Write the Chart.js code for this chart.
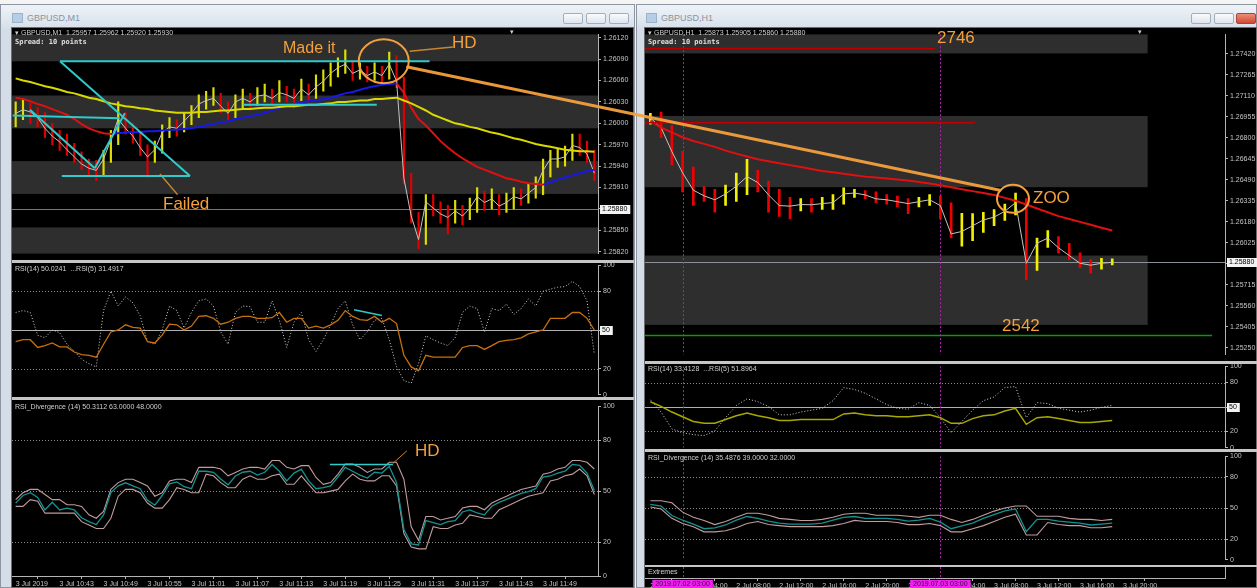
<!DOCTYPE html>
<html>
<head>
<meta charset="utf-8">
<script src="https://cdn.jsdelivr.net/npm/chart.js@4.4.1/dist/chart.umd.min.js"></script>
<style>
body{margin:0;width:1257px;height:588px;overflow:hidden;background:#f4f4f4;position:relative;font-family:"Liberation Sans",Arial,sans-serif}
.win{position:absolute;top:4px;height:584px;background:linear-gradient(#eef3f8,#d7e0ea 23px,#d3dce7 24px);border:1px solid #8d96a0;box-sizing:border-box}
.ttl{position:absolute;top:13px;font-size:9px;color:#8993a0}
.ico{position:absolute;top:13px;width:9px;height:8px;background:#b7cde3;border:1px solid #9ab3cc}
.btn{position:absolute;top:13px;width:20px;height:11px;border:1px solid #a3aebb;border-radius:2px;background:linear-gradient(#fafbfc,#dde4ec);box-sizing:border-box}
.pane{position:absolute;background:#000;border:1px solid #6c6c6c;box-sizing:border-box}
canvas{position:absolute;z-index:2}
.sep{position:absolute;background:#c6c6c6;z-index:3}
.lbl{position:absolute;font-size:7px;color:#cfcfcf;white-space:pre;line-height:8px;z-index:4}
.mono{font-family:"DejaVu Sans Mono",monospace;font-weight:bold;font-size:7px;color:#e0e0e0}
.note{position:absolute;color:#f4a03c;font-family:"Liberation Sans",Arial,sans-serif;white-space:nowrap;line-height:1;z-index:7}
</style>
</head>
<body>
<div class="win" style="left:0;width:635px"></div>
<div class="ico" style="left:12px"></div>
<div class="ttl" style="left:27px">GBPUSD,M1</div>
<div class="btn" style="left:563px"></div><div class="btn" style="left:586px"></div><div class="btn" style="left:609px"></div>
<div class="pane" style="left:11px;top:27px;width:623px;height:561px"></div>

<div class="win" style="left:636px;width:621px"></div>
<div class="ico" style="left:646px"></div>
<div class="ttl" style="left:661px">GBPUSD,H1</div>
<div class="btn" style="left:1191px"></div><div class="btn" style="left:1214px"></div><div class="btn" style="left:1236px;background:linear-gradient(#ee8d78,#cf4a33);border-color:#a9443a"></div>
<div class="pane" style="left:644px;top:27px;width:613px;height:561px"></div>

<canvas id="lMain" width="622" height="232" style="left:12px;top:28px"></canvas>
<canvas id="lRsi" width="622" height="142" style="left:12px;top:259px"></canvas>
<canvas id="lDiv" width="622" height="188" style="left:12px;top:400px"></canvas>
<canvas id="rMain" width="612" height="333" style="left:645px;top:28px"></canvas>
<canvas id="rRsi" width="612" height="94" style="left:645px;top:360px"></canvas>
<canvas id="rDiv" width="612" height="116" style="left:645px;top:450px"></canvas>
<canvas id="rExt" width="612" height="21" style="left:645px;top:567px"></canvas>
<canvas id="ov" width="1257" height="588" style="left:0;top:0;z-index:6"></canvas>

<div class="sep" style="left:12px;top:260px;width:622px;height:3px"></div>
<div class="sep" style="left:12px;top:397px;width:622px;height:3px"></div>
<div class="sep" style="left:645px;top:361px;width:612px;height:3px"></div>
<div class="sep" style="left:645px;top:449px;width:612px;height:3px"></div>
<div class="sep" style="left:645px;top:565px;width:612px;height:2px"></div>

<div class="lbl" style="left:15px;top:29px">▾ GBPUSD,M1  1.25957 1.25962 1.25920 1.25930</div>
<div class="lbl mono" style="left:15px;top:38px">Spread: 10 points</div>
<div class="lbl" style="left:510px;top:28px">▾</div>
<div class="lbl" style="left:15px;top:265px">RSI(14) 50.0241  ...RSI(5) 31.4917</div>
<div class="lbl" style="left:15px;top:403px">RSI_Divergence (14) 50.3112 63.0000 48.0000</div>
<div class="lbl" style="left:648px;top:29px">▾ GBPUSD,H1  1.25873 1.25905 1.25860 1.25880</div>
<div class="lbl mono" style="left:648px;top:38px">Spread: 10 points</div>
<div class="lbl" style="left:1138px;top:28px">▾</div>
<div class="lbl" style="left:648px;top:365px">RSI(14) 33.4128  ...RSI(5) 51.8964</div>
<div class="lbl" style="left:648px;top:454px">RSI_Divergence (14) 35.4876 39.0000 32.0000</div>
<div class="lbl" style="left:648px;top:568px">Extremes</div>

<div class="note" style="left:283px;top:40px;font-size:16px">Made it</div>
<div class="note" style="left:452px;top:34px;font-size:17px">HD</div>
<div class="note" style="left:163px;top:195px;font-size:17px">Failed</div>
<div class="note" style="left:415px;top:442px;font-size:17px">HD</div>
<div class="note" style="left:937px;top:29px;font-size:17px">2746</div>
<div class="note" style="left:1033px;top:189px;font-size:17px">ZOO</div>
<div class="note" style="left:1002px;top:317px;font-size:17px">2542</div>

<script>
// ---- left window: GBPUSD M1 ----
const leftClose = [1.26014,1.26019,1.26016,1.26008,1.25993,1.25982,1.25974,1.25963,1.25953,1.25943,
  1.25937,1.25934,1.25950,1.25977,1.26006,1.25993,1.25982,1.25966,1.25953,1.25963,
  1.25987,1.25995,1.25993,1.26003,1.26014,1.26027,1.26032,1.26035,1.26024,1.26014,
  1.26030,1.26035,1.26030,1.26038,1.26040,1.26035,1.26043,1.26040,1.26035,1.26048,
  1.26040,1.26051,1.26059,1.26070,1.26078,1.26083,1.26070,1.26075,1.26067,1.26072,
  1.26067,1.26083,1.26059,1.25923,1.25870,1.25837,1.25890,1.25881,1.25873,1.25868,
  1.25877,1.25870,1.25881,1.25897,1.25889,1.25894,1.25884,1.25889,1.25897,1.25894,
  1.25902,1.25910,1.25934,1.25950,1.25950,1.25953,1.25969,1.25966,1.25957,1.25930];
const leftHigh = [1.26030,1.26035,1.26028,1.26022,1.26015,1.26000,1.25990,1.25985,1.25972,1.25960,
  1.25950,1.25948,1.25962,1.25990,1.26030,1.26015,1.26000,1.25988,1.25970,1.25975,
  1.25998,1.26008,1.26005,1.26015,1.26025,1.26040,1.26045,1.26050,1.26042,1.26030,
  1.26040,1.26048,1.26042,1.26050,1.26055,1.26048,1.26060,1.26052,1.26048,1.26062,
  1.26055,1.26068,1.26075,1.26085,1.26092,1.26103,1.26088,1.26085,1.26080,1.26085,
  1.26080,1.26100,1.26095,1.26065,1.25930,1.25875,1.25900,1.25900,1.25890,1.25885,
  1.25892,1.25885,1.25895,1.25910,1.25905,1.25908,1.25900,1.25902,1.25910,1.25908,
  1.25915,1.25925,1.25950,1.25962,1.25965,1.25968,1.25985,1.25985,1.25975,1.25962];
const leftLow = [1.25995,1.26005,1.26000,1.25995,1.25980,1.25970,1.25962,1.25955,1.25945,1.25935,
  1.25928,1.25920,1.25928,1.25945,1.25970,1.25985,1.25972,1.25955,1.25924,1.25945,
  1.25958,1.25980,1.25982,1.25988,1.25998,1.26008,1.26020,1.26025,1.26015,1.26005,
  1.26008,1.26022,1.26020,1.26025,1.26030,1.26025,1.26030,1.26030,1.26022,1.26030,
  1.26030,1.26035,1.26045,1.26052,1.26065,1.26070,1.26060,1.26062,1.26058,1.26060,
  1.26055,1.26062,1.26050,1.25915,1.25860,1.25824,1.25830,1.25870,1.25860,1.25845,
  1.25860,1.25858,1.25865,1.25875,1.25878,1.25880,1.25872,1.25875,1.25880,1.25885,
  1.25888,1.25895,1.25900,1.25925,1.25938,1.25940,1.25948,1.25955,1.25945,1.25920];
const leftFastMa = [1.26036,1.26034,1.26031,1.26027,1.26024,1.26020,1.26016,1.26012,1.26006,1.25999,
  1.25993,1.25989,1.25986,1.25985,1.25986,1.25987,1.25988,1.25988,1.25989,1.25989,
  1.25990,1.25991,1.25991,1.25992,1.25993,1.25995,1.25997,1.25999,1.26001,1.26003,
  1.26006,1.26008,1.26010,1.26012,1.26015,1.26018,1.26022,1.26024,1.26027,1.26030,
  1.26031,1.26032,1.26034,1.26036,1.26039,1.26042,1.26044,1.26047,1.26050,1.26052,
  1.26054,1.26055,1.26056,1.26043,1.26022,1.26006,1.25997,1.25986,1.25975,1.25966,
  1.25958,1.25951,1.25945,1.25939,1.25935,1.25931,1.25927,1.25923,1.25921,1.25918,
  1.25916,1.25915,1.25914,1.25917,1.25921,1.25924,1.25927,1.25930,1.25933,1.25935];
const leftSlowMa = [1.26063,1.26060,1.26058,1.26055,1.26052,1.26050,1.26047,1.26044,1.26042,1.26039,
  1.26036,1.26034,1.26031,1.26028,1.26026,1.26024,1.26023,1.26021,1.26020,1.26018,
  1.26017,1.26016,1.26015,1.26015,1.26015,1.26016,1.26016,1.26017,1.26018,1.26018,
  1.26019,1.26020,1.26020,1.26021,1.26022,1.26022,1.26023,1.26024,1.26024,1.26025,
  1.26026,1.26026,1.26027,1.26028,1.26030,1.26030,1.26031,1.26032,1.26032,1.26034,
  1.26034,1.26035,1.26036,1.26032,1.26028,1.26023,1.26018,1.26012,1.26008,1.26004,
  1.26000,1.25998,1.25995,1.25993,1.25990,1.25987,1.25985,1.25982,1.25979,1.25977,
  1.25974,1.25971,1.25969,1.25967,1.25965,1.25963,1.25962,1.25961,1.25961,1.25960];
const leftRsi14 = [41,42.5,42.5,36.5,38,40,37,37,33,31,30.5,29,39,48.5,50,54,52,51.5,41,40,
  46,54.5,54,50,53,60.5,61,59,54.5,56,59,60.5,60.5,59,59,59.5,63.5,56,59,59,
  51.5,53,51.5,54,57.5,65,60.5,58,57.5,60.5,56,59,55,30.5,21.5,18.5,30.5,29,29,29,
  29,36.5,38,38,35,38,41,42,42.5,44,47,48.5,50,59,59,59,63.5,63.5,59,50];
const leftRsi5 = [63.5,65,63.5,46,44,50,48,39,33.5,27.5,24,21.5,65,80,68.5,75.5,71,61,41,39,
  50,68.5,65,51.5,63.5,72.5,74,68.5,48.5,39,63.5,68.5,68,56,56,72.5,57.5,36.5,56,63.5,
  42.5,33.5,42.5,54,66.5,72.5,54,42.5,48.5,57.5,59,42.5,21.5,11,9,24,45.5,42.5,40,38,
  44,63.5,68.5,66.5,48.5,66.5,65,70,62,66.5,74,68.5,80,81.5,83,83.5,87.5,83.5,72.5,31.5];
const leftDiv = [42.9,47.4,49.1,46.3,38.9,43.4,38.9,40,38.9,34.3,32,30.3,36,49.1,53.1,54.9,53.1,51.4,44.6,41.7,
  47.4,54.3,55.4,52.6,51.4,61.7,61.7,61.1,57.1,53.7,58.9,61.1,61.7,59.4,61.1,65.7,61.7,56,60.6,62.9,
  56,51.4,52,53.1,58.3,64,61.7,59.4,57.7,61.1,60.6,64.6,54.9,27.4,18.9,18.3,32.6,31.4,30.3,32,
  32.6,37.7,38.9,37.1,36,41.1,43.4,45.1,46.9,48.6,49.7,51.4,58.3,58.9,60.6,61.7,65.7,65.1,60.6,50.3];
const leftDivUp = [45,49,51,51,48,45,45,42,42,41,36,34,38,51,55,57,57,55,53,47,
  49,56,57,57,55,64,64,64,63,59,61,63,64,64,63,68,68,64,63,65,
  65,58,54,55,60,66,66,64,61,63,63,67,67,57,29,21,35,35,33,34,
  35,40,41,41,39,43,45,47,49,51,52,53,60,61,63,64,68,68,67,63];
const leftDivDn = [41,41,45,44,37,37,37,37,37,32,30,28,28,34,47,51,51,49,43,40,
  40,45,52,51,49,49,60,59,55,52,52,57,59,57,57,59,60,54,54,59,
  54,49,49,50,51,56,60,57,56,56,59,59,53,25,17,16,16,29,28,28,
  30,31,36,35,34,34,39,41,43,45,47,48,49,56,57,59,60,63,59,48];
const leftPriceTicks = [1.2612,1.2609,1.2606,1.2603,1.2600,1.2597,1.2594,1.2591,1.2588,1.2585,1.2582];
const leftTimeIdx = [0,6,12,18,24,30,36,42,48,54,60,66,72];
const leftTimes = ['3 Jul 2019','3 Jul 10:43','3 Jul 10:49','3 Jul 10:55','3 Jul 11:01','3 Jul 11:07',
  '3 Jul 11:13','3 Jul 11:19','3 Jul 11:25','3 Jul 11:31','3 Jul 11:37','3 Jul 11:43','3 Jul 11:49'];
const leftZones = [[1.26125,1.26087],[1.26039,1.25993],[1.25947,1.25901],[1.25854,1.25817]];
const leftBid = 1.2588;
// trendlines: [index0, price0, index1, price1]
const leftTrend = [[6.05,1.26087,56.5,1.26087],[6.05,1.26087,23.8,1.25926],[6.3,1.25926,23.8,1.25926],
  [-0.4,1.26011,14.2,1.26007],[1.96,1.26019,10.8,1.25937],[10.8,1.25937,14.9,1.26014],[31,1.26026,49.3,1.26026]];
const leftPointers = [[53.8,1.26101,59.7,1.26107],[19.7,1.25929,22.1,1.25900]];
const leftRsiTrend = [46.2,65.7,50,61.2];
const leftDivTrend = [42.9,65.7,51.5,65.7];
const leftDivPointer = [51.5,66.3,53.4,73.7];

// ---- right window: GBPUSD H1 ----
const rightClose = [1.26947,1.26875,1.26698,1.26541,1.26413,1.26371,1.26342,1.26385,1.26442,1.26513,
  1.26470,1.26378,1.26299,1.26295,1.26307,1.26305,1.26314,1.26321,1.26385,1.26392,
  1.26378,1.26349,1.26342,1.26328,1.26314,1.26328,1.26342,1.26299,1.26090,1.26108,
  1.26150,1.26193,1.26214,1.26257,1.26321,1.25873,1.26022,1.26058,1.25987,1.25930,
  1.25873,1.25859,1.25873,1.25880];
const rightHigh = [1.26980,1.26990,1.26890,1.26700,1.26584,1.26440,1.26420,1.26450,1.26540,1.26640,
  1.26560,1.26480,1.26420,1.26360,1.26350,1.26350,1.26360,1.26380,1.26430,1.26420,
  1.26410,1.26400,1.26380,1.26370,1.26350,1.26360,1.26380,1.26370,1.26320,1.26242,
  1.26240,1.26250,1.26270,1.26310,1.26392,1.26350,1.26060,1.26115,1.26070,1.26020,
  1.25950,1.25900,1.25910,1.25905];
const rightLow = [1.26900,1.26800,1.26600,1.26400,1.26300,1.26330,1.26250,1.26300,1.26330,1.26380,
  1.26400,1.26250,1.26220,1.26200,1.26260,1.26250,1.26270,1.26270,1.26310,1.26360,
  1.26350,1.26320,1.26310,1.26290,1.26240,1.26290,1.26300,1.26200,1.26060,1.26000,
  1.26040,1.26100,1.26150,1.26190,1.26230,1.25752,1.25820,1.25990,1.25950,1.25900,
  1.25840,1.25800,1.25830,1.25860];
const rightMa = [1.26925,1.26875,1.26840,1.26804,1.26776,1.26755,1.26733,1.26705,1.26683,1.26662,
  1.26641,1.26627,1.26612,1.26598,1.26584,1.26570,1.26555,1.26545,1.26534,1.26523,
  1.26513,1.26506,1.26499,1.26491,1.26484,1.26474,1.26463,1.26449,1.26435,1.26420,
  1.26406,1.26392,1.26378,1.26356,1.26335,1.26307,1.26278,1.26250,1.26221,1.26200,
  1.26179,1.26157,1.26136,1.26115];
const rightRsi14 = [56.5,50.7,43.8,38,32.3,30,30,34.6,39.2,42.7,39.2,36.9,33.4,33.4,34.6,34.6,34.6,34.6,41.5,42.7,
  40.4,39.2,39.2,38,38,39.2,40.4,36.9,30,30,35.8,39.2,40.4,45,48.4,28.8,36.9,38,35.8,33.4,
  31.1,31.1,32.3,33.4];
const rightRsi5 = [58.8,43.8,23.1,18.5,16.1,15,20.8,36.9,51.9,60,56.5,50.7,40.4,40.4,43.8,46.1,48.4,57.7,73.8,71.5,
  66.9,60,53,48.4,47.3,55.4,51.9,36.9,18.5,32.3,46.1,57.7,62.3,73.8,75,36.9,55.4,54.2,48.4,46.1,
  43.8,46.1,49.6,51.9];
const rightDiv = [53.6,51.8,42.7,38.2,34.5,30,30.9,33.6,38.2,41.8,40,37.3,35.5,34.5,34.5,34.5,35.5,38.2,40.9,41.8,
  40,40,40,39.1,37.3,38.2,40,36.4,30,32.7,35.5,40,43.6,47.3,49.1,27.3,39.1,39.1,37.3,36.4,
  35.5,33.6,34.5,35.5];
const rightDivUp = [57,57,55,46,41,38,34,37,41,45,45,43,40,39,38,38,39,41,44,45,
  45,43,43,43,42,41,43,43,39,36,39,43,47,50,52,52,42,42,42,40,39,39,38,39];
const rightDivDn = [51,49,40,35,32,27,27,28,31,35,37,34,33,32,32,32,32,33,35,38,
  37,37,37,36,34,34,35,33,27,27,30,33,37,41,44,24,24,36,34,33,33,31,31,32];
const rightSlots = 54;
const rightPriceTicks = [1.2742,1.27265,1.2711,1.26955,1.268,1.26645,1.2649,1.26335,1.2618,1.26025,
  1.2587,1.25715,1.2556,1.25405,1.2525];
const rightTimeIdx = [0,4,8,12,16,20,24,28,32,36,40,44];
const rightTimes = ['2 Jul 2019','2 Jul 04:00','2 Jul 08:00','2 Jul 12:00','2 Jul 16:00','2 Jul 20:00',
  '3 Jul 00:00','3 Jul 04:00','3 Jul 08:00','3 Jul 12:00','3 Jul 16:00','3 Jul 20:00'];
const rightZones = [[1.27565,1.27423],[1.26961,1.26435],[1.25930,1.25418]];
const rightZoneEnd = 46.3;
const rightBid = 1.2588;
const rightLevels = [1.2746, 1.26911, 1.2534];
const rightLevelEnds = [26.5, 30.2, 52.3];
const rightMarks = [3, 27];
const rightMarkTimes = ['2019.07.02 03:00', '2019.07.03 03:00'];

const rsiTicks = [100, 80, 50, 20, 0];
const rsiLevels = [80, 50, 20];

// annotation anchors [index, price]
const hdMark = [50.25, 1.26087];
const zooMark = [33.76, 1.26349];
const linkFrom = [53.5, 1.26079];
const linkTo = [32.55, 1.26413];

const FONT = '"Liberation Sans", Arial, sans-serif';
const AXIS = '#b4b4b4';

const zonesPlugin = {
  id: 'zones',
  beforeDatasetsDraw(chart, args, o) {
    const {ctx, chartArea: a, scales: {x, y}} = chart;
    ctx.save();
    ctx.beginPath(); ctx.rect(a.left, a.top, a.width, a.height); ctx.clip();
    if (o.bands) {
      const x1 = o.bandEnd != null ? x.getPixelForValue(o.bandEnd) : a.right;
      ctx.fillStyle = '#2e2e2e';
      o.bands.forEach(b => {
        const y0 = y.getPixelForValue(b[0]), y1 = y.getPixelForValue(b[1]);
        ctx.fillRect(a.left, y0, x1 - a.left, y1 - y0);
      });
    }
    (o.levels || []).forEach((v, i) => {
      const py = Math.round(y.getPixelForValue(v)) + 0.5;
      ctx.strokeStyle = o.levelColors[i];
      ctx.lineWidth = 1;
      ctx.setLineDash(o.levelDash[i]);
      ctx.beginPath(); ctx.moveTo(a.left, py); ctx.lineTo(a.right, py); ctx.stroke();
    });
    (o.marks || []).forEach(m => {
      const px = Math.round(x.getPixelForValue(m)) + 0.5;
      ctx.strokeStyle = '#b020b0';
      ctx.lineWidth = 1;
      ctx.setLineDash([2, 2]);
      ctx.beginPath(); ctx.moveTo(px, a.top); ctx.lineTo(px, a.bottom); ctx.stroke();
    });
    ctx.restore();
  },
  afterDraw(chart, args, o) {
    const {ctx, chartArea: a, scales: {x, y}} = chart;
    ctx.save();
    ctx.font = '7px ' + FONT;
    ctx.textBaseline = 'middle';
    ctx.textAlign = 'left';
    (o.boxes || []).forEach(b => {
      const py = Math.round(y.getPixelForValue(b[0]));
      const w = ctx.measureText(b[1]).width + 5;
      ctx.fillStyle = '#f2f2f2';
      ctx.fillRect(a.right + 2, py - 4, w, 9);
      ctx.fillStyle = '#000';
      ctx.fillText(b[1], a.right + 4, py + 0.5);
    });
    (o.markLabels || []).forEach((t, i) => {
      const px = x.getPixelForValue(o.marks[i]);
      const w = ctx.measureText(t).width + 6;
      ctx.fillStyle = '#f020f0';
      ctx.fillRect(px - w / 2, a.bottom + 2, w, 9);
      ctx.fillStyle = '#3a003a';
      ctx.fillText(t, px - w / 2 + 3, a.bottom + 6.5);
    });
    ctx.restore();
  }
};

const pts = arr => arr.map((v, i) => ({x: i, y: v}));
const line = (arr, color, width, order, extra) => Object.assign({
  type: 'line', data: pts(arr), borderColor: color, borderWidth: width,
  pointRadius: 0, tension: 0, order: order
}, extra || {});
const seg = (s, color, width) => ({
  type: 'line', data: [{x: s[0], y: s[1]}, {x: s[2], y: s[3]}],
  borderColor: color, borderWidth: width, pointRadius: 0, order: 1
});
const bars = (high, low, close, up, down, w) => ({
  type: 'bar',
  data: high.map((h, i) => ({x: i, y: [low[i], h]})),
  backgroundColor: close.map((c, i) => c >= close[Math.max(i - 1, 0)] ? up : down),
  barThickness: w, order: 6
});

function yAxis(min, max, ticks, fmt, w) {
  return {
    position: 'right', min: min, max: max,
    afterFit: s => { s.width = w; },
    afterBuildTicks: s => { s.ticks = ticks.map(v => ({value: v})); },
    ticks: {color: '#c4c4c4', font: {size: 7, family: FONT}, padding: 2, callback: fmt},
    grid: {drawOnChartArea: false, tickLength: 3, color: AXIS},
    border: {color: AXIS}
  };
}
function xAxis(n, idx, texts, h) {
  if (!idx) return {type: 'linear', min: -0.5, max: n - 0.5, offset: false, display: false};
  return {
    type: 'linear', min: -0.5, max: n - 0.5, offset: false, position: 'bottom',
    afterFit: s => { s.height = h; },
    afterBuildTicks: s => { s.ticks = idx.map(v => ({value: v})); },
    ticks: {align: 'start', maxRotation: 0, minRotation: 0, autoSkip: false, color: '#c4c4c4',
      font: {size: 7, family: FONT}, padding: 1, callback: v => texts[idx.indexOf(v)]},
    grid: {drawOnChartArea: false, tickLength: 3, color: AXIS},
    border: {color: AXIS}
  };
}
function makeChart(id, datasets, x, y, zones, padding) {
  return new Chart(document.getElementById(id), {
    type: 'bar',
    data: {datasets: datasets},
    options: {
      responsive: false, animation: false, events: [],
      layout: {padding: padding || 0},
      plugins: {legend: {display: false}, tooltip: {enabled: false}, zones: zones},
      scales: {x: x, y: y}
    },
    plugins: [zonesPlugin]
  });
}

const priceFmt = v => v.toFixed(5);
const intFmt = v => String(v);
const dotted = [1, 2];
const rsiZones = (extra) => Object.assign({levels: rsiLevels, levelColors: ['#8c8c8c', '#b0b0b0', '#8c8c8c'],
  levelDash: [dotted, [], dotted], boxes: [[50, '50']]}, extra || {});
const divZones = (extra) => Object.assign({levels: rsiLevels, levelColors: ['#8c8c8c', '#8c8c8c', '#8c8c8c'],
  levelDash: [dotted, dotted, dotted]}, extra || {});

const LN = leftClose.length;
const CYAN = '#2fcaca';

const lMain = makeChart('lMain', [
  ...leftTrend.map(s => seg(s, CYAN, 2)),
  ...leftPointers.map(s => seg(s, '#c8862e', 1.5)),
  line(leftSlowMa, '#d9d900', 2, 3),
  line(leftFastMa, '#e01010', 2, 3, {segment: {borderColor: c => c.p1.parsed.y >= c.p0.parsed.y ? '#1818e8' : '#e01010'}}),
  line(leftClose, '#c4c4c4', 1, 4),
  bars(leftHigh, leftLow, leftClose, '#dede00', '#e00000', 1.5)
], xAxis(LN), yAxis(1.25817, 1.26125, leftPriceTicks, priceFmt, 36),
  {bands: leftZones, levels: [leftBid], levelColors: ['#6d7a86'], levelDash: [[]], boxes: [[leftBid, leftBid.toFixed(5)]]});

const lRsi = makeChart('lRsi', [
  seg(leftRsiTrend, CYAN, 1.5),
  line(leftRsi14, '#c8700c', 1.3, 3),
  line(leftRsi5, '#d4d4d4', 1, 4, {borderDash: dotted})
], xAxis(LN), yAxis(0, 100, rsiTicks, intFmt, 36), rsiZones(), {top: 4, bottom: 4});

const lDiv = makeChart('lDiv', [
  seg(leftDivTrend, CYAN, 1.5),
  seg(leftDivPointer, '#c8862e', 1),
  line(leftDiv, '#149292', 1.3, 3),
  line(leftDivUp, '#c09c9c', 1.1, 4),
  line(leftDivDn, '#c09c9c', 1.1, 4)
], xAxis(LN, leftTimeIdx, leftTimes, 12), yAxis(0, 100, rsiTicks, intFmt, 36), divZones(), {top: 3});

const rMain = makeChart('rMain', [
  ...rightLevels.map((v, i) => seg([-0.5, v, rightLevelEnds[i], v], i === 2 ? '#00a000' : '#c00000', 1.5)),
  line(rightMa, '#e01010', 2, 3),
  line(rightClose, '#c4c4c4', 1, 4),
  bars(rightHigh, rightLow, rightClose, '#f0f000', '#f00000', 2)
], xAxis(rightSlots), yAxis(1.25197, 1.27565, rightPriceTicks, priceFmt, 32),
  {bands: rightZones, bandEnd: rightZoneEnd, levels: [rightBid], levelColors: ['#8a9096'], levelDash: [[]],
   marks: rightMarks, boxes: [[rightBid, rightBid.toFixed(5)]]});

const rRsi = makeChart('rRsi', [
  line(rightRsi14, '#a8a800', 1.5, 3),
  line(rightRsi5, '#d4d4d4', 1, 4, {borderDash: dotted})
], xAxis(rightSlots), yAxis(0, 100, rsiTicks, intFmt, 32), rsiZones({marks: rightMarks}), {top: 4, bottom: 4});

const rDiv = makeChart('rDiv', [
  line(rightDiv, '#149292', 1.3, 3),
  line(rightDivUp, '#c09c9c', 1.1, 4),
  line(rightDivDn, '#c09c9c', 1.1, 4)
], xAxis(rightSlots), yAxis(0, 100, rsiTicks, intFmt, 32), divZones({marks: rightMarks}), {top: 4, bottom: 2});

const rExt = makeChart('rExt', [], xAxis(rightSlots, rightTimeIdx, rightTimes, 10),
  Object.assign(yAxis(0, 1, [], intFmt, 32), {ticks: {display: false}}),
  {marks: rightMarks, markLabels: rightMarkTimes});

// hand-drawn annotations on top of both windows
function toPage(chart, p) {
  const c = chart.canvas;
  return [c.offsetLeft + chart.scales.x.getPixelForValue(p[0]), c.offsetTop + chart.scales.y.getPixelForValue(p[1])];
}
const ov = document.getElementById('ov').getContext('2d');
const a = toPage(lMain, linkFrom), b = toPage(rMain, linkTo);
ov.strokeStyle = 'rgba(244,160,60,0.95)';
ov.lineWidth = 3;
ov.lineCap = 'round';
ov.beginPath(); ov.moveTo(a[0], a[1]); ov.lineTo(b[0], b[1]); ov.stroke();
ov.lineWidth = 2;
ov.strokeStyle = '#f0a040';
const hd = toPage(lMain, hdMark), zoo = toPage(rMain, zooMark);
ov.beginPath(); ov.ellipse(hd[0], hd[1], 25, 22, 0, 0, Math.PI * 2); ov.stroke();
ov.beginPath(); ov.ellipse(zoo[0], zoo[1], 16, 14, 0, 0, Math.PI * 2); ov.stroke();
</script>
</body>
</html>
